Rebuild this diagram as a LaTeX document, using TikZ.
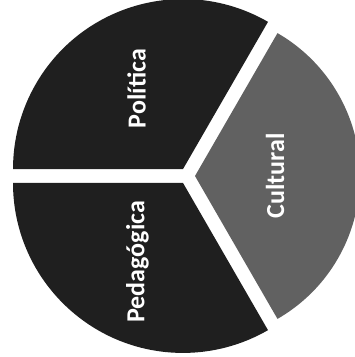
\documentclass[tikz,border=0pt]{standalone}
\usepackage{fontspec}
\setmainfont{Carlito}
\usetikzlibrary{calc,positioning}

\begin{document}
\begin{tikzpicture}[x=1pt, y=1pt,
    sectorname/.style={text=white, inner sep=0pt, rotate=90,
        font=\bfseries\fontsize{26}{30}\selectfont}
]
    \useasboundingbox (0,0) rectangle (355,357);
    \def\gap{8}
    \coordinate (O) at (187,181);
    % three slices, each pushed out along its middle
    \foreach \a/\id/\txt/\tone/\radius/\dist in {60/politica/Política/88/170/101,
        180/pedagogica/Pedagógica/88/170/99, -60/cultural/Cultural/62/165/88} {
        \fill[black!\tone] ($(O)+(\a+60:\gap)$) -- ++(\a:\radius)
            arc[start angle=\a, end angle=\a+120, radius=\radius] -- cycle;
        \node[sectorname] (\id) at ($(O)+(\a+60:\dist)$) {\txt};
    }
\end{tikzpicture}
\end{document}
